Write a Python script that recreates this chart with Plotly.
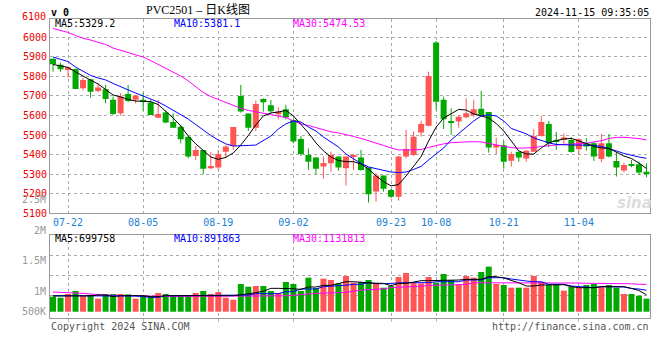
import plotly.graph_objects as go

# ---------------- data ----------------
dates = [
    "2024-07-18", "2024-07-19",
    "2024-07-22", "2024-07-23", "2024-07-24", "2024-07-25", "2024-07-26",
    "2024-07-29", "2024-07-30", "2024-07-31", "2024-08-01", "2024-08-02",
    "2024-08-05", "2024-08-06", "2024-08-07", "2024-08-08", "2024-08-09",
    "2024-08-12", "2024-08-13", "2024-08-14", "2024-08-15", "2024-08-16",
    "2024-08-19", "2024-08-20", "2024-08-21", "2024-08-22", "2024-08-23",
    "2024-08-26", "2024-08-27", "2024-08-28", "2024-08-29", "2024-08-30",
    "2024-09-02", "2024-09-03", "2024-09-04", "2024-09-05", "2024-09-06",
    "2024-09-09", "2024-09-10", "2024-09-11", "2024-09-12", "2024-09-13",
    "2024-09-18", "2024-09-19", "2024-09-20",
    "2024-09-23", "2024-09-24", "2024-09-25", "2024-09-26", "2024-09-27",
    "2024-09-30",
    "2024-10-08", "2024-10-09", "2024-10-10", "2024-10-11",
    "2024-10-14", "2024-10-15", "2024-10-16", "2024-10-17", "2024-10-18",
    "2024-10-21", "2024-10-22", "2024-10-23", "2024-10-24", "2024-10-25",
    "2024-10-28", "2024-10-29", "2024-10-30", "2024-10-31", "2024-11-01",
    "2024-11-04", "2024-11-05", "2024-11-06", "2024-11-07", "2024-11-08",
    "2024-11-11", "2024-11-12", "2024-11-13", "2024-11-14", "2024-11-15",
]

open_ = [5890, 5860, 5836, 5838, 5739, 5785, 5725, 5734, 5681, 5611,
         5710, 5680, 5680, 5666, 5589, 5616, 5567, 5543, 5492, 5393,
         5424, 5330, 5334, 5415, 5446, 5700, 5610, 5538, 5685, 5652,
         5606, 5632, 5577, 5480, 5398, 5385, 5339, 5356, 5390, 5330,
         5390, 5385, 5334, 5211, 5293, 5219, 5185, 5390, 5398, 5513,
         5548, 5973, 5680, 5572, 5569, 5591, 5603, 5634, 5618, 5436,
         5448, 5369, 5415, 5380, 5415, 5495, 5557, 5475, 5475, 5475,
         5427, 5458, 5458, 5378, 5458, 5368, 5319, 5351, 5351, 5313]
high = [5892, 5870, 5850, 5840, 5794, 5786, 5765, 5756, 5697, 5714,
        5756, 5705, 5717, 5680, 5680, 5628, 5611, 5552, 5492, 5444,
        5424, 5414, 5424, 5448, 5541, 5756, 5610, 5676, 5688, 5680,
        5642, 5654, 5586, 5495, 5432, 5385, 5390, 5415, 5390, 5390,
        5403, 5424, 5334, 5305, 5293, 5225, 5393, 5526, 5518, 5574,
        5824, 5981, 5697, 5637, 5603, 5688, 5680, 5726, 5618, 5487,
        5470, 5415, 5415, 5424, 5530, 5598, 5572, 5516, 5509, 5489,
        5484, 5484, 5467, 5506, 5506, 5415, 5359, 5373, 5364, 5356]
low = [5824, 5824, 5794, 5734, 5727, 5691, 5719, 5662, 5603, 5599,
       5668, 5662, 5625, 5603, 5586, 5560, 5538, 5458, 5381, 5373,
       5300, 5325, 5325, 5381, 5424, 5615, 5521, 5521, 5620, 5611,
       5581, 5580, 5458, 5393, 5322, 5300, 5276, 5313, 5318, 5242,
       5322, 5318, 5155, 5160, 5211, 5177, 5165, 5381, 5393, 5492,
       5543, 5628, 5531, 5501, 5538, 5586, 5591, 5598, 5410, 5403,
       5328, 5339, 5364, 5364, 5415, 5492, 5438, 5424, 5449, 5410,
       5398, 5420, 5368, 5361, 5385, 5288, 5308, 5335, 5296, 5284]
close = [5862, 5836, 5845, 5736, 5782, 5722, 5743, 5685, 5608, 5697,
         5674, 5702, 5671, 5603, 5608, 5564, 5538, 5478, 5390, 5424,
         5328, 5342, 5403, 5441, 5541, 5620, 5538, 5659, 5668, 5622,
         5620, 5590, 5467, 5403, 5364, 5328, 5357, 5398, 5334, 5390,
         5398, 5322, 5197, 5293, 5225, 5185, 5390, 5429, 5492, 5557,
         5802, 5671, 5581, 5565, 5594, 5611, 5632, 5603, 5436, 5449,
         5364, 5403, 5385, 5420, 5495, 5567, 5458, 5467, 5487, 5414,
         5478, 5441, 5390, 5458, 5390, 5334, 5347, 5346, 5308, 5300]

ma5 = [5861, 5855, 5846, 5823, 5800, 5781, 5761, 5733, 5705, 5695,
       5682, 5674, 5671, 5671, 5656, 5623, 5587, 5547, 5495, 5455,
       5419, 5388, 5376, 5386, 5409, 5449, 5498, 5552, 5598, 5613,
       5618, 5626, 5598, 5557, 5511, 5460, 5419, 5388, 5370, 5364,
       5364, 5352, 5327, 5291, 5262, 5240, 5247, 5291, 5342, 5390,
       5470, 5541, 5587, 5611, 5631, 5628, 5608, 5598, 5587, 5559,
       5521, 5470, 5419, 5403, 5403, 5434, 5460, 5472, 5480, 5483,
       5472, 5457, 5442, 5434, 5432, 5414, 5393, 5380, 5357, 5329.2]
ma10 = [5899, 5887, 5876, 5848, 5828, 5805, 5792, 5782, 5764, 5746,
        5731, 5715, 5700, 5687, 5669, 5649, 5628, 5605, 5582, 5554,
        5526, 5498, 5475, 5455, 5444, 5444, 5447, 5449, 5470, 5495,
        5531, 5557, 5572, 5567, 5541, 5521, 5490, 5465, 5439, 5403,
        5378, 5355, 5337, 5329, 5322, 5311, 5308, 5311, 5324, 5340,
        5373, 5403, 5434, 5475, 5506, 5541, 5572, 5598, 5603, 5598,
        5572, 5534, 5521, 5506, 5485, 5472, 5460, 5452, 5449, 5449,
        5449, 5449, 5447, 5442, 5432, 5419, 5406, 5396, 5388, 5381.1]
ma30 = [6045, 6036, 6025, 6009, 5995, 5986, 5973, 5963, 5945, 5935,
        5922, 5910, 5899, 5881, 5861, 5843, 5825, 5802, 5777, 5746,
        5718, 5697, 5682, 5667, 5651, 5637, 5626, 5619, 5611, 5604,
        5599, 5590, 5572, 5557, 5549, 5539, 5526, 5517, 5511, 5503,
        5493, 5483, 5472, 5460, 5447, 5434, 5424, 5424, 5424, 5426,
        5437, 5447, 5455, 5461, 5464, 5465, 5466, 5465, 5457, 5449,
        5441, 5436, 5433, 5434, 5436, 5442, 5447, 5449, 5452, 5453,
        5455, 5458, 5465, 5471, 5483, 5488, 5489, 5486, 5482, 5474.53]

# volume, thousands of lots
volume_k = [624, 582, 735, 859, 652, 693, 541, 735, 735, 735,
            721, 541, 665, 624, 776, 735, 665, 665, 665, 776,
            859, 735, 818, 582, 499, 1150, 1039, 1067, 1067, 859,
            776, 1233, 1150, 859, 1412, 984, 1371, 1316, 1177, 1482,
            1205, 1233, 1316, 1205, 997, 1067, 1440, 1606, 1205, 1177,
            1440, 1205, 1565, 1316, 1136, 1482, 1412, 1648, 1869, 1150,
            1108, 997, 997, 997, 1482, 1233, 1108, 1108, 873, 1039,
            997, 1108, 1150, 1039, 1108, 997, 735, 735, 665, 541]
vma5_k = [652, 652, 652, 652, 660, 660, 693, 693, 624, 665,
          665, 665, 665, 624, 624, 665, 665, 665, 665, 665,
          680, 680, 680, 680, 665, 700, 735, 790, 850, 970,
          970, 970, 950, 928, 1025, 1025, 1094, 1094, 1177, 1245,
          1245, 1218, 1218, 1177, 1177, 1080, 1177, 1177, 1230, 1288,
          1288, 1288, 1288, 1316, 1316, 1343, 1343, 1343, 1454, 1454,
          1400, 1316, 1200, 1067, 1067, 1108, 1108, 1108, 1120, 1039,
          997, 997, 997, 1039, 1039, 1039, 1039, 970, 880, 699.758]
vma10_k = [665, 665, 665, 652, 652, 652, 652, 652, 652, 652,
           652, 652, 630, 596, 596, 665, 665, 665, 665, 665,
           665, 665, 665, 665, 665, 693, 693, 748, 748, 748,
           748, 831, 831, 942, 942, 942, 1039, 1050, 1067, 1100,
           1136, 1136, 1205, 1163, 1163, 1163, 1190, 1205, 1205, 1205,
           1205, 1245, 1245, 1245, 1245, 1316, 1316, 1316, 1412, 1412,
           1412, 1357, 1300, 1274, 1245, 1245, 1136, 1136, 1136, 1067,
           1040, 997, 997, 1039, 1039, 1025, 1025, 960, 942, 891.863]
vma30_k = [817, 810, 803, 790, 760, 734, 700, 692, 680, 670,
           664, 664, 660, 650, 640, 637, 637, 637, 637, 637,
           637, 637, 637, 637, 637, 637, 637, 640, 640, 650,
           650, 660, 680, 720, 740, 760, 775, 775, 790, 800,
           850, 900, 910, 920, 950, 1000, 1010, 1010, 1030, 1060,
           1090, 1100, 1100, 1110, 1120, 1130, 1200, 1200, 1200, 1200,
           1205, 1210, 1215, 1220, 1220, 1210, 1205, 1200, 1200, 1200,
           1190, 1180, 1180, 1170, 1165, 1160, 1160, 1160, 1140, 1131.813]

tick_dates = ["2024-07-22", "2024-08-05", "2024-08-19", "2024-09-02",
              "2024-09-23", "2024-10-08", "2024-10-21", "2024-11-04"]
tick_labels = [d[5:] for d in tick_dates]
price_ticks = [5100, 5200, 5300, 5400, 5500, 5600, 5700, 5800, 5900, 6000]

# ---------------- layout geometry ----------------
W, H = 660, 360
ML, MR, MT, MB = 50, 10, 19, 42
PW = W - ML - MR
PH = H - MT - MB


def px(x, y):
    """window pixel -> paper coordinates"""
    return (x - ML) / PW, (H - MB - y) / PH


price_dom = [px(0, 213.3)[1], 1.0]
vol_dom = [0.0, px(0, 234.5)[1]]

RED = "#FF5555"
GREEN = "#00A800"
MONO = "DejaVu Sans Mono"

up = [c >= o for o, c in zip(open_, close)]
colors = [RED if u else GREEN for u in up]

fig = go.Figure()

# wicks
for flag, col in ((True, RED), (False, GREEN)):
    xs, ys = [], []
    for d, h, l, u in zip(dates, high, low, up):
        if u == flag:
            xs += [d, d, None]
            ys += [l, h, None]
    fig.add_trace(go.Scatter(x=xs, y=ys, mode="lines",
                             line=dict(color=col, width=1),
                             xaxis="x", yaxis="y", hoverinfo="skip"))

# bodies
fig.add_trace(go.Bar(x=dates,
                     y=[abs(c - o) for o, c in zip(open_, close)],
                     base=[min(o, c) for o, c in zip(open_, close)],
                     marker=dict(color=colors, line=dict(width=0)),
                     width=0.8, xaxis="x", yaxis="y"))

for arr, col in ((ma30, "#FF00FF"), (ma10, "#0000FF"), (ma5, "#000000")):
    fig.add_trace(go.Scatter(x=dates, y=arr, mode="lines",
                             line=dict(color=col, width=1),
                             xaxis="x", yaxis="y"))

# volume
fig.add_trace(go.Bar(x=dates, y=[v * 1000 for v in volume_k],
                     marker=dict(color=colors, line=dict(width=0)),
                     width=0.8, xaxis="x2", yaxis="y2"))
for arr, col in ((vma30_k, "#FF00FF"), (vma10_k, "#0000FF"), (vma5_k, "#000000")):
    fig.add_trace(go.Scatter(x=dates, y=[v * 1000 for v in arr], mode="lines",
                             line=dict(color=col, width=1),
                             xaxis="x2", yaxis="y2"))

GRID = "#AAAAAA"
FRAME = "#999999"
xrange_ = [-0.4, 79.47]

fig.update_layout(
    width=W, height=H,
    margin=dict(l=ML, r=MR, t=MT, b=MB, pad=0),
    paper_bgcolor="white", plot_bgcolor="white",
    showlegend=False,
    font=dict(family=MONO, size=10, color="black"),
    xaxis=dict(domain=[0, 1], anchor="y", type="category", range=xrange_,
               categoryorder="array", categoryarray=dates,
               tickvals=tick_dates, ticktext=tick_labels, tickangle=0,
               tickfont=dict(family=MONO, size=10, color="#1A7FD4"),
               showgrid=True, gridcolor=GRID, griddash="dot", gridwidth=1,
               showline=True, mirror=True, linecolor=FRAME, linewidth=1,
               ticks="", zeroline=False),
    yaxis=dict(domain=price_dom, anchor="x", range=[5100, 6093.5],
               tickvals=price_ticks,
               tickfont=dict(family=MONO, size=10, color="#EE0000"),
               showgrid=True, gridcolor=GRID, griddash="dot", gridwidth=1,
               showline=True, mirror=True, linecolor=FRAME, linewidth=1,
               ticks="", zeroline=False),
    xaxis2=dict(domain=[0, 1], anchor="y2", type="category", range=xrange_,
                categoryorder="array", categoryarray=dates,
                tickvals=tick_dates, showticklabels=False,
                ticks="outside", ticklen=3, tickcolor="#BBBBBB",
                showgrid=True, gridcolor=GRID, griddash="dot", gridwidth=1,
                showline=True, mirror=True, linecolor=FRAME, linewidth=1,
                zeroline=False),
    yaxis2=dict(domain=vol_dom, anchor="x2", range=[-261000, 3204000],
                tickvals=[664000, 1494000, 2324000], showticklabels=False,
                showgrid=True, gridcolor=GRID, griddash="dot", gridwidth=1,
                showline=True, mirror=True, linecolor=FRAME, linewidth=1,
                ticks="", zeroline=False),
)

ann = []


def text(x, y, s, color="black", anchor="left", size=10, family=MONO):
    xp, yp = px(x, y)
    ann.append(dict(x=xp, y=yp, xref="paper", yref="paper", text=s,
                    showarrow=False, xanchor=anchor, yanchor="middle",
                    font=dict(family=family, size=size, color=color),
                    borderpad=0))


text(50, 12, "<b>v 0</b>", size=10)
text(198, 10.5, "PVC2501 – 日K线图", anchor="center", size=12,
     family="Liberation Serif, Noto Sans CJK SC")
text(650, 12, "2024-11-15 09:35:05", anchor="right")
text(47, 16, "6100", color="#EE0000", anchor="right")

text(54, 23.5, "MA5:5329.2")
text(173, 23.5, "MA10:5381.1", color="#0000FF")
text(292, 23.5, "MA30:5474.53", color="#FF00FF")

text(54, 238.5, "MA5:699758")
text(173, 238.5, "MA10:891863", color="#0000FF")
text(292, 238.5, "MA30:1131813", color="#FF00FF")

for lab, y in (("2.5M", 199), ("2M", 230), ("1.5M", 260), ("1M", 291), ("500K", 311)):
    text(47, y, lab, color="#999999", anchor="right")

text(50, 326, "Copyright 2024 SINA.COM", color="#555555")
text(650, 326, "http://finance.sina.com.cn", color="#555555", anchor="right")
text(634, 203, "<b><i>sina</i></b>", color="#DDDDDD", anchor="center", size=15,
     family="DejaVu Sans")

fig.update_layout(annotations=ann)
# remove the browser's default 8px body margin so the figure fills the window
fig.write_html("out.html",
               config={"displayModeBar": False},
               post_script="document.body.style.margin='0';"
                           "document.body.style.overflow='hidden';")
